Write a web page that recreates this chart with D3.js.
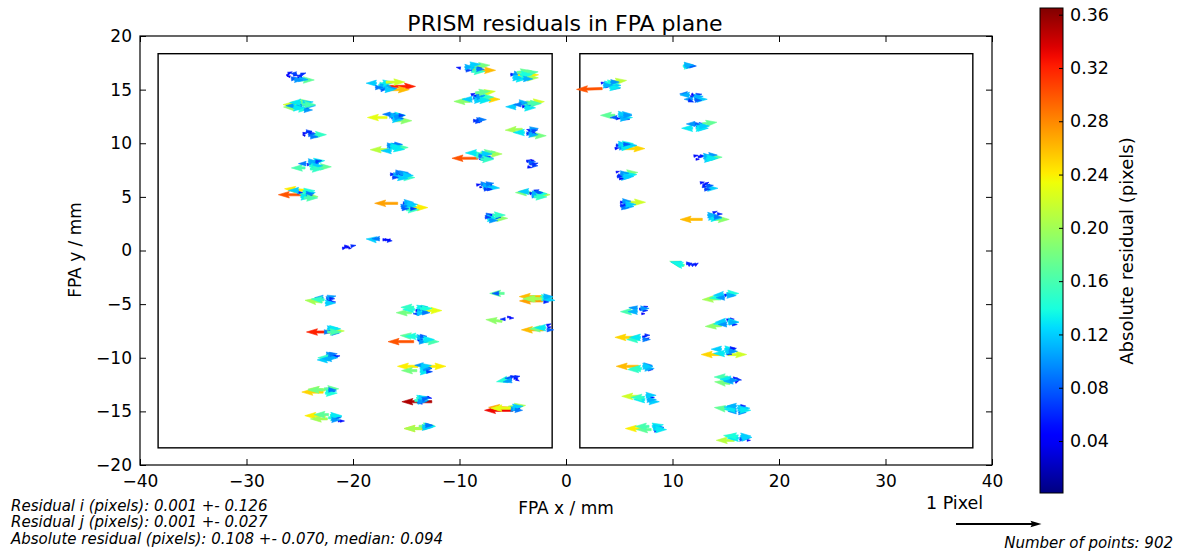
<!DOCTYPE html>
<html>
<head>
<meta charset="utf-8">
<script src="https://cdn.jsdelivr.net/npm/d3@7"></script>
<style>
body{margin:0;background:#fff;}
text{font-family:"DejaVu Sans",sans-serif;fill:#000;}
</style>
</head>
<body>
<div id="viz"></div>
<script>
// axes / colorbar ticks
var xTicks = [-40,-30,-20,-10,0,10,20,30,40];
var yTicks = [-20,-15,-10,-5,0,5,10,15,20];
var cTicks = [0.04,0.08,0.12,0.16,0.20,0.24,0.28,0.32,0.36];
var cRange = [0.001, 0.365];

// the two detector outlines (mm)
var detX0 = [-38.3, 1.3];
var detX1 = [-1.3, 38.2];
var detY = [-18.4, 18.35];

// star groups: centre of each group (mm)
var clusterX = [-25.3,-25.0,-24.0,-24.0,-25.0, -17.0,-16.3,-16.4,-15.6,-15.5,
  -8.6,-8.4,-8.4,-8.0,-7.5,-7.0, -4.2,-4.0,-3.5,-3.4,-3.2, -20.6,-17.2,
  -22.8,-22.4,-22.4,-22.8,-22.3, -14.0,-14.2,-13.7,-14.0,-13.8,
  -6.6,-6.4,-5.6,-5.5, -2.6,-2.5,
  4.0,5.0,5.2,5.3,5.5, 11.6,11.8,12.2,13.2,13.1,13.2, 10.5,
  14.6,14.7,14.7,15.2,15.4,15.8, 6.5,6.6,6.8,7.0,7.5];
var clusterY = [16.2,13.5,10.8,8.0,5.3, 15.3,12.4,9.6,7.0,4.2,
  17.0,14.3,12.1,8.8,6.0,3.1, 16.3,13.6,11.0,8.1,5.3, 0.3,1.0,
  -4.6,-7.5,-10.0,-13.1,-15.6, -5.6,-8.3,-11.0,-14.0,-16.5,
  -4.0,-6.4,-12.0,-14.8, -4.5,-7.3,
  15.4,12.5,9.7,7.0,4.3, 17.2,14.3,11.6,8.7,6.0,3.1, -1.2,
  -4.2,-6.7,-9.5,-12.1,-14.8,-17.5, -5.6,-8.2,-11.0,-13.8,-16.6];

// residuals per group: [dx mm, dy mm, res i (pixels), res j (pixels)]
var clusterArrows = [
 [[-0.8,0.3,0.05,0.02],[-0.6,0.0,-0.04,0.01],[-0.3,0.2,0.06,-0.01],[0.1,-0.1,0.05,0.0],[-0.9,0.1,0.03,0.03],[0.3,-0.3,0.17,0.0],[0.2,-0.2,0.11,-0.01],[0.5,0.1,-0.06,0.0],[-0.5,-0.2,0.08,0.01],[0.0,0.3,-0.07,0.0],[-0.2,-0.3,0.10,0.0],[0.4,0.2,0.06,0.02]],
 [[0.2,0.1,-0.22,0.0],[0.0,-0.2,-0.19,0.01],[-0.4,0.3,0.18,0.01],[-0.2,-0.3,0.14,0.0],[0.6,0.0,0.11,0.0],[0.3,0.2,0.12,0.02],[0.0,0.0,0.05,0.01],[0.5,-0.2,0.04,-0.01],[-0.5,0.0,-0.10,0.0],[-0.3,0.0,0.09,0.01],[0.1,0.3,-0.13,0.0],[0.4,-0.4,0.10,0.0],[-0.6,-0.2,0.13,0.0],[0.2,0.1,0.16,0.0]],
 [[-0.7,0.1,0.05,0.01],[-0.5,-0.1,-0.03,0.01],[0.2,0.1,0.04,0.0],[0.4,-0.1,0.06,-0.01],[0.3,0.0,0.15,0.0],[-0.2,0.0,0.08,0.01],[-0.4,0.3,0.07,0.0],[0.0,-0.2,0.09,0.0],[0.1,0.2,-0.06,0.01]],
 [[0.3,0.3,0.13,0.01],[0.0,0.1,0.10,0.0],[-0.5,-0.3,-0.16,0.0],[0.6,-0.2,0.17,0.0],[-0.3,0.0,0.05,0.01],[0.4,0.0,0.04,-0.01],[0.7,0.2,-0.08,0.01],[-0.1,-0.1,0.14,-0.01],[-0.2,0.3,0.11,0.0],[0.2,-0.1,0.12,0.0],[-0.4,0.1,-0.09,0.0],[0.5,0.3,0.07,0.01],[0.0,-0.4,0.15,0.0]],
 [[0.4,-0.1,-0.30,0.0],[0.5,0.3,-0.24,0.02],[0.0,0.0,0.17,0.0],[0.2,-0.2,0.19,-0.01],[0.5,0.1,0.12,0.0],[-0.2,0.1,0.06,0.0],[0.8,-0.2,0.05,0.01],[0.3,0.2,0.14,0.01],[0.1,-0.3,0.13,0.0],[0.6,0.0,0.09,0.0],[-0.1,0.3,-0.12,0.0],[0.4,-0.4,0.16,0.0]],
 [[0.3,0.0,0.32,0.0],[0.2,-0.3,0.26,0.0],[-0.8,0.3,-0.12,0.0],[-0.6,0.1,0.14,-0.01],[-0.2,-0.1,0.05,0.0],[0.0,0.2,0.04,-0.01],[0.3,-0.2,0.10,0.0],[-0.4,-0.3,0.08,0.01],[0.1,0.1,-0.06,0.01],[-0.5,0.0,0.11,0.0],[-0.2,0.3,0.13,0.01],[0.0,-0.3,0.12,0.0],[-0.9,-0.1,0.09,0.0],[0.1,0.4,0.22,0.0]],
 [[-0.5,0.0,-0.23,0.0],[0.3,-0.3,0.19,0.0],[0.2,0.2,0.13,0.0],[-0.1,0.0,0.06,0.01],[0.1,0.3,0.05,-0.01],[0.5,0.0,-0.04,0.0],[-0.3,0.2,0.11,0.01],[0.4,-0.1,0.08,0.0],[0.0,-0.2,0.12,0.0],[-0.2,0.3,-0.09,0.0],[0.2,0.0,0.10,0.01],[0.6,0.2,0.07,0.0]],
 [[-0.3,-0.2,-0.21,0.0],[0.1,0.1,0.12,0.02],[0.0,0.2,0.09,0.01],[-0.2,0.0,0.05,0.0],[0.3,0.0,0.16,0.0],[0.5,0.2,-0.05,0.01],[0.2,-0.1,0.13,-0.01],[-0.4,0.2,0.10,0.0],[0.0,-0.3,-0.12,0.0],[0.3,0.3,0.09,0.0],[-0.1,0.1,0.13,0.0]],
 [[-0.9,0.1,0.06,0.0],[-0.6,0.0,0.11,0.0],[-0.3,0.2,0.04,-0.01],[0.0,0.0,0.05,0.01],[0.2,-0.2,0.15,0.0],[0.4,0.1,0.08,0.0],[-0.2,-0.2,0.12,-0.01],[0.6,0.0,0.04,0.0],[-0.4,0.3,0.09,0.0],[0.0,0.2,0.10,0.01],[-0.7,-0.2,0.07,0.0],[0.3,0.0,0.12,0.0]],
 [[-0.3,0.2,-0.27,0.0],[0.6,-0.2,0.24,0.0],[0.4,0.0,0.13,-0.01],[0.5,-0.4,0.15,0.0],[0.2,0.2,0.06,0.0],[0.8,0.1,0.05,0.01],[0.0,-0.1,0.09,0.01],[0.3,0.3,0.11,0.0],[0.6,0.1,0.12,0.0],[0.1,-0.3,0.08,0.0],[0.9,-0.3,0.07,0.0]],
 [[-1.3,0.0,-0.05,0.01],[-0.6,0.1,0.16,0.0],[-0.3,-0.1,0.12,0.0],[-0.1,-0.2,0.26,0.0],[0.0,0.2,0.18,0.01],[-0.8,-0.2,0.07,0.0],[0.3,0.0,0.05,0.0],[-0.9,0.1,0.11,0.0],[-0.4,0.3,0.12,0.01],[-0.2,-0.3,0.15,0.0],[0.2,-0.1,0.09,0.0]],
 [[-0.6,-0.4,-0.19,0.0],[0.2,-0.2,0.25,0.0],[0.0,0.3,0.22,0.03],[-0.5,0.2,0.05,0.02],[-0.3,0.0,0.08,-0.01],[0.2,0.1,-0.06,0.01],[-0.2,-0.3,0.12,0.0],[0.4,0.0,0.15,0.0],[-0.4,-0.2,-0.12,0.0],[0.0,0.0,0.10,0.02],[-0.1,0.4,0.17,0.02],[0.3,-0.3,0.13,0.0]],
 [[-0.3,0.0,0.06,0.0],[0.0,0.1,0.08,0.0],[0.3,-0.1,-0.04,0.0],[0.1,0.0,0.05,-0.01],[-0.1,-0.1,0.07,0.0],[0.2,0.1,0.09,0.0]],
 [[-0.3,-0.2,-0.30,0.0],[0.4,0.2,0.20,0.0],[0.0,0.3,0.17,0.01],[-0.6,0.1,0.15,0.0],[0.2,-0.1,0.05,0.0],[0.6,-0.1,0.04,0.01],[-0.2,0.0,0.09,0.0],[0.3,-0.3,-0.06,0.0],[-0.4,0.3,-0.13,0.0],[0.1,0.2,0.12,0.0],[0.4,-0.2,0.10,0.0],[0.0,-0.3,0.15,0.0]],
 [[-0.9,0.1,0.05,0.01],[-0.5,0.2,0.09,0.0],[-0.1,0.0,0.04,-0.02],[0.3,-0.1,0.12,-0.01],[0.1,-0.3,0.06,0.0],[-0.6,-0.1,0.03,0.0],[0.5,0.1,-0.04,0.02],[-0.3,0.0,0.11,0.0],[0.0,0.2,0.09,0.01],[-0.2,-0.3,0.07,0.0]],
 [[-0.5,0.2,0.08,0.01],[-0.2,0.1,0.05,0.0],[0.2,0.2,-0.04,0.0],[0.0,-0.1,0.19,0.0],[-0.4,-0.1,0.13,0.0],[0.4,0.0,0.06,0.0],[-0.2,-0.3,0.10,0.0],[-0.6,0.0,0.07,0.0],[0.1,0.2,0.15,0.0]],
 [[-1.0,0.1,0.06,0.0],[-0.7,0.2,0.10,-0.02],[-0.3,0.0,0.24,0.01],[0.0,-0.2,0.20,0.0],[-0.5,-0.3,0.13,0.0],[0.3,0.2,0.16,0.02],[0.5,0.1,-0.07,0.0],[-0.8,-0.2,0.12,0.0],[-0.4,0.3,0.17,0.02],[-0.1,0.1,0.14,0.0],[0.2,-0.3,0.11,0.0]],
 [[-0.7,-0.2,-0.12,0.0],[0.2,0.2,0.22,0.01],[0.0,0.0,0.17,0.02],[-0.3,0.1,0.06,0.0],[-0.1,-0.2,0.05,0.01],[0.3,-0.1,0.09,0.0],[-0.4,0.2,0.11,0.0],[0.1,-0.3,0.13,0.0],[-0.2,0.0,-0.09,0.0],[0.4,0.1,0.16,0.0]],
 [[-0.6,0.3,-0.20,-0.01],[0.2,-0.3,0.18,0.0],[0.0,0.0,0.06,0.02],[0.2,0.2,-0.05,0.01],[-0.2,-0.1,0.07,0.0],[0.4,0.0,0.04,-0.02],[0.1,0.3,0.10,0.01],[-0.4,0.0,-0.13,0.0],[0.0,-0.2,0.11,0.0],[0.3,0.1,0.07,0.02]],
 [[-0.3,0.2,0.05,0.02],[0.0,0.0,0.06,0.0],[0.3,0.1,-0.04,0.01],[-0.2,-0.3,0.05,-0.01],[0.2,-0.2,0.07,0.0],[0.1,0.3,0.04,0.0],[-0.1,0.1,0.08,0.01],[0.3,-0.1,0.06,0.02]],
 [[-0.1,0.1,-0.18,0.0],[0.1,-0.1,0.20,0.0],[0.3,0.0,0.14,0.0],[-0.2,0.0,0.05,0.01],[0.2,0.2,0.06,0.02],[0.5,-0.1,-0.04,0.0],[0.0,-0.2,0.09,0.0],[-0.3,0.2,-0.12,0.0],[0.0,0.0,0.11,0.0],[0.4,0.1,0.08,0.0],[0.2,-0.3,0.15,0.0]],
 [[-0.4,-0.1,0.05,0.01],[0.0,0.0,0.04,0.0],[0.4,0.1,0.06,0.01],[0.2,-0.1,0.03,0.0],[-0.2,0.1,0.05,0.0]],
 [[-0.6,0.0,-0.12,0.01],[0.0,0.0,0.05,0.0],[0.4,-0.1,0.06,0.0],[0.7,0.0,-0.04,0.0],[-0.3,0.1,-0.09,0.0],[0.2,0.0,0.05,0.0]],
 [[-0.1,-0.2,-0.20,0.02],[0.3,0.1,0.08,0.02],[0.0,0.2,-0.10,0.0],[0.4,-0.1,0.05,0.0],[0.7,-0.2,0.06,0.0],[0.2,-0.3,0.12,0.0],[0.1,0.0,-0.15,0.01],[0.4,0.2,0.10,0.02],[0.6,0.1,0.06,0.0]],
 [[0.6,-0.1,-0.32,0.0],[-0.1,0.0,0.21,0.0],[0.0,0.2,0.12,0.01],[0.3,0.1,0.06,0.0],[0.5,0.0,-0.05,0.0],[-0.3,-0.1,0.09,0.0],[0.2,0.2,0.13,0.0],[0.4,-0.2,0.09,0.0],[0.0,-0.1,0.16,0.0]],
 [[-0.1,0.3,0.10,0.01],[0.3,0.0,-0.15,0.0],[0.0,-0.2,-0.12,0.0],[0.4,0.2,0.05,0.0],[0.7,0.1,0.06,0.01],[0.1,0.1,0.08,0.0],[0.1,0.0,0.11,0.0],[0.4,-0.1,-0.11,0.0],[0.2,0.3,0.09,0.01]],
 [[0.0,-0.1,-0.25,0.0],[0.2,0.1,-0.20,0.01],[0.3,0.0,0.12,0.0],[0.7,0.0,0.05,0.0],[0.9,-0.1,-0.04,0.0],[0.1,0.2,0.17,0.0],[0.2,-0.2,0.14,0.0],[0.5,0.1,0.09,0.0],[0.0,0.1,-0.18,0.0]],
 [[-0.3,0.2,-0.24,0.0],[-0.1,-0.1,-0.20,0.0],[0.0,0.0,0.15,0.01],[0.3,0.1,0.12,0.0],[0.9,-0.3,0.04,0.0],[1.1,-0.3,0.05,0.0],[0.5,0.0,0.08,0.0],[0.2,0.2,0.13,0.0],[0.3,-0.2,0.10,0.0],[0.0,0.3,-0.17,0.0]],
 [[-0.5,-0.2,-0.18,0.0],[-0.2,0.1,-0.14,0.0],[0.5,0.0,0.23,0.0],[0.0,0.2,0.13,0.02],[0.2,-0.1,0.10,0.0],[-0.1,0.0,0.05,0.0],[0.4,0.3,0.06,0.01],[0.2,-0.3,-0.07,0.0],[0.0,-0.2,0.12,0.0],[0.3,0.2,0.14,0.0],[-0.3,0.3,-0.15,0.0],[0.5,-0.2,0.09,0.0]],
 [[-0.1,-0.2,-0.30,0.0],[0.0,0.3,-0.17,0.01],[0.3,0.0,0.06,0.0],[0.5,0.1,0.05,0.02],[1.0,-0.2,0.16,0.0],[0.2,0.2,0.11,0.0],[0.6,-0.1,-0.04,0.0],[0.2,0.3,-0.14,0.0],[0.4,-0.2,0.10,0.0],[0.5,0.3,0.08,0.0],[0.8,0.0,0.13,0.0]],
 [[-0.2,0.2,-0.24,0.0],[0.5,0.2,0.24,0.0],[0.0,0.0,0.13,0.01],[-0.3,-0.2,-0.18,0.0],[0.2,-0.2,0.06,0.0],[0.5,-0.1,0.05,0.01],[0.8,0.0,0.04,0.0],[0.3,0.3,-0.10,0.0],[0.0,-0.3,0.13,0.0],[0.3,0.0,0.10,0.0],[0.1,0.2,0.12,0.01],[0.6,-0.3,0.07,0.0]],
 [[1.4,-0.1,-0.35,0.0],[0.0,0.2,0.13,0.02],[0.3,0.0,0.10,0.0],[0.7,0.2,0.05,0.02],[1.0,0.3,0.05,-0.01],[-0.2,0.0,0.15,0.01],[0.5,-0.2,-0.06,0.0],[0.2,0.2,0.12,0.0],[0.1,-0.1,0.10,0.0],[0.5,0.1,0.08,0.02]],
 [[0.6,-0.1,-0.25,0.0],[0.0,0.1,0.18,0.01],[0.5,0.1,0.13,0.0],[0.8,0.2,0.05,0.0],[0.2,-0.1,-0.20,0.0],[0.3,0.0,0.12,0.0],[0.6,0.2,0.09,0.0]],
 [[0.8,0.0,-0.17,0.0],[0.3,0.0,-0.08,0.0]],
 [[0.4,-0.2,-0.19,0.02],[1.1,0.1,0.05,0.0],[0.9,0.2,0.04,0.0],[0.7,0.0,-0.06,0.0]],
 [[0.2,0.0,-0.14,-0.03],[0.5,0.1,-0.08,0.0],[0.7,0.1,0.05,0.0],[0.9,0.0,0.04,-0.02],[0.4,0.2,0.06,0.01],[0.5,-0.1,-0.10,-0.02],[0.8,0.2,0.06,0.01]],
 [[0.5,-0.1,-0.33,0.0],[0.4,0.1,-0.27,0.01],[0.1,0.2,0.20,0.02],[0.8,0.1,0.05,0.0],[0.9,-0.1,0.04,0.0],[0.3,0.0,0.10,0.0],[0.3,0.1,-0.23,0.0],[0.5,0.2,0.12,0.01],[0.7,-0.1,0.09,0.0]],
 [[0.3,0.2,-0.26,0.0],[0.4,-0.2,-0.27,0.0],[0.0,0.0,-0.18,0.0],[0.2,0.1,0.14,0.0],[0.6,0.0,0.12,-0.02],[0.5,-0.3,0.06,0.0],[0.3,0.0,-0.20,0.0],[0.5,0.2,0.11,0.0]],
 [[0.4,-0.1,-0.26,0.0],[0.5,0.0,-0.18,0.0],[0.7,0.3,0.05,0.02],[0.8,0.1,0.04,0.01],[0.6,0.1,-0.13,0.0],[0.7,-0.1,0.08,0.0]],
 [[-0.6,-0.3,-0.30,-0.01],[-0.4,0.1,0.13,0.0],[0.0,0.3,0.21,0.02],[0.2,0.0,0.12,0.0],[-0.3,-0.1,0.06,0.0],[0.3,-0.2,0.10,-0.01],[0.0,0.1,0.05,0.01],[-0.7,0.2,0.04,0.01],[-0.2,0.2,0.14,0.0],[0.1,-0.2,0.13,0.0],[-0.5,0.0,0.11,0.0],[0.2,0.3,0.10,0.0]],
 [[-0.4,0.1,-0.17,0.0],[0.0,0.0,0.09,0.0],[0.3,0.2,0.11,0.0],[-0.3,-0.2,0.05,0.0],[0.5,-0.2,0.06,-0.01],[0.8,0.0,-0.04,0.0],[0.2,-0.1,0.13,0.0],[-0.1,0.2,0.12,0.0],[0.1,-0.2,0.11,0.0],[0.4,0.1,0.10,0.0],[-0.2,-0.1,-0.08,0.0]],
 [[-0.5,0.1,0.06,0.0],[-0.2,-0.1,0.10,0.0],[0.2,-0.2,0.25,0.0],[0.0,0.2,0.14,0.01],[-0.6,-0.2,0.05,0.01],[0.5,0.1,0.12,0.0],[0.3,0.0,-0.05,0.0],[-0.3,0.2,0.12,0.0],[0.0,-0.1,0.13,0.01],[0.2,0.2,0.08,0.0]],
 [[-0.6,0.3,0.04,0.01],[-0.4,0.0,0.06,0.0],[0.0,0.2,0.18,0.01],[-0.1,-0.2,0.11,0.0],[0.3,0.0,0.13,0.01],[-0.3,-0.3,0.05,0.0],[-0.2,0.2,0.10,0.0],[0.1,-0.1,0.12,0.0],[-0.5,-0.1,0.06,0.0]],
 [[-0.4,0.2,0.05,0.0],[-0.1,0.0,0.07,0.0],[0.2,0.2,0.22,0.0],[0.0,-0.2,0.11,0.0],[-0.3,-0.3,0.09,0.0],[0.3,0.0,-0.04,0.0],[-0.2,0.3,0.10,0.0],[0.1,0.0,0.12,0.0],[-0.4,-0.1,0.06,0.0]],
 [[-0.6,0.0,0.14,0.0],[-0.3,0.0,0.10,0.0],[0.0,0.0,0.08,0.0],[-0.5,0.1,0.11,0.0]],
 [[-0.4,0.3,-0.09,0.0],[-0.1,0.0,0.05,0.02],[0.1,-0.2,-0.10,0.0],[0.4,0.2,0.07,0.01],[0.5,-0.2,0.12,0.0],[0.0,0.3,0.04,-0.02],[-0.3,-0.3,0.06,-0.02],[0.2,0.0,0.11,0.01],[-0.2,0.2,-0.11,0.0],[0.3,-0.3,0.08,0.0]],
 [[-0.3,-0.2,-0.13,0.0],[0.0,0.0,0.05,0.01],[0.3,0.2,0.06,0.0],[0.6,0.2,0.17,0.02],[0.2,-0.2,0.12,0.0],[-0.2,0.2,0.08,0.0],[0.5,-0.1,-0.05,0.0],[0.0,-0.2,0.13,0.0],[0.3,0.0,0.12,0.0],[-0.1,0.2,-0.10,0.0]],
 [[-1.2,0.1,0.05,0.01],[-1.0,-0.2,0.04,0.0],[-0.6,0.1,0.06,0.0],[0.1,0.0,0.17,0.0],[-0.2,-0.2,0.12,0.0],[0.2,0.2,0.10,0.0],[-0.3,0.1,0.11,0.0],[0.0,-0.1,0.13,0.0],[-0.8,0.0,0.05,0.02]],
 [[-0.5,0.3,0.05,0.01],[-0.3,0.0,0.06,-0.01],[0.0,0.2,0.04,0.02],[0.2,-0.2,0.12,0.0],[0.4,0.1,-0.04,0.0],[-0.1,-0.3,0.07,0.0],[-0.2,0.1,0.05,0.02],[0.1,0.0,0.08,0.01]],
 [[-0.4,-0.2,-0.26,0.0],[0.6,-0.2,0.19,0.0],[0.3,0.1,0.10,0.0],[0.6,0.4,0.05,0.02],[1.0,0.3,0.06,0.0],[0.2,0.0,0.12,-0.01],[0.8,0.1,-0.04,0.01],[0.4,-0.1,0.13,0.0],[0.1,0.2,0.11,0.0],[0.7,0.0,0.09,0.0]],
 [[0.6,-0.2,-0.17,0.05],[0.3,-0.1,-0.12,0.03],[1.0,-0.2,0.04,0.03],[1.3,-0.2,0.05,0.03],[1.6,-0.2,0.04,0.03],[0.8,0.0,0.06,0.0],[0.5,-0.2,-0.13,0.04]],
 [[-0.2,-0.3,-0.20,-0.01],[0.0,-0.1,-0.14,-0.02],[0.3,0.0,0.05,0.02],[0.6,0.1,0.06,-0.01],[0.5,0.2,0.14,0.0],[0.9,0.0,0.04,0.0],[0.2,0.1,-0.12,-0.01],[0.5,0.0,0.11,0.0],[0.3,-0.2,-0.10,0.0]],
 [[-0.1,-0.3,-0.19,-0.01],[0.2,0.0,-0.13,-0.02],[0.4,0.2,0.05,0.02],[0.7,0.3,0.05,0.0],[0.5,0.1,0.13,-0.01],[0.9,-0.2,0.06,0.0],[0.3,0.1,-0.12,-0.01],[0.6,0.0,0.11,0.0],[0.4,-0.2,-0.10,0.0]],
 [[0.0,-0.2,-0.25,0.0],[0.5,-0.2,0.22,0.0],[-0.1,0.3,-0.12,0.0],[0.2,0.3,0.13,0.0],[0.7,0.4,0.06,0.0],[0.9,0.3,0.05,0.01],[0.4,-0.1,0.06,-0.01],[0.3,0.1,0.12,0.0],[0.2,-0.1,-0.13,0.0],[0.6,0.1,0.10,0.0]],
 [[0.0,0.3,-0.16,0.0],[0.2,-0.3,-0.18,0.02],[0.5,0.2,0.05,0.0],[0.8,0.1,0.06,-0.01],[0.7,-0.2,0.04,0.02],[0.3,0.0,-0.09,0.0],[0.3,0.1,-0.13,0.0],[0.5,-0.1,-0.11,0.0],[0.2,0.0,0.10,0.0]],
 [[-0.1,0.0,-0.17,0.02],[0.4,0.2,-0.12,0.0],[0.6,-0.2,-0.10,0.0],[0.9,0.1,0.12,0.0],[0.8,-0.3,0.09,0.0],[1.0,0.3,0.06,0.0],[0.5,0.0,-0.13,0.0],[0.7,0.1,0.12,0.0],[0.6,0.3,-0.11,0.0],[0.9,-0.1,0.13,0.0]],
 [[0.0,-0.2,-0.21,0.0],[0.2,0.1,-0.15,0.02],[0.6,0.2,0.12,0.0],[1.0,0.0,0.05,0.0],[1.2,-0.2,0.04,0.0],[0.5,-0.1,0.08,0.0],[0.4,0.0,-0.13,0.0],[0.7,0.0,0.12,0.01],[0.3,0.2,-0.14,0.0]],
 [[-0.1,-0.1,-0.16,0.0],[0.2,0.2,-0.10,0.01],[0.4,0.1,0.05,0.02],[0.7,0.0,0.06,0.0],[0.6,-0.3,0.04,0.0],[0.8,0.3,0.05,0.01],[0.2,-0.1,-0.11,0.0],[0.5,0.2,0.10,0.0]],
 [[0.0,0.1,-0.25,0.0],[0.3,-0.1,-0.15,0.0],[0.6,0.1,0.05,0.02],[0.9,-0.1,0.04,0.02],[0.8,0.3,0.06,0.0],[0.4,0.1,-0.13,0.0],[0.6,-0.1,0.09,0.0]],
 [[0.0,0.2,-0.26,0.0],[0.3,0.0,-0.14,0.0],[0.5,0.3,0.10,0.0],[0.8,0.2,0.05,0.01],[0.9,-0.1,0.06,0.0],[1.0,0.2,0.04,0.0],[0.2,-0.1,-0.15,0.0],[0.6,0.0,0.11,0.0],[0.4,0.2,0.12,0.0]],
 [[0.0,0.2,-0.22,0.0],[0.4,-0.1,-0.13,0.0],[0.6,0.2,0.05,0.02],[0.8,-0.3,0.12,0.0],[0.9,0.1,0.05,0.0],[0.3,0.1,-0.15,0.0],[0.6,-0.1,0.11,0.0],[0.5,0.3,0.12,0.0]],
 [[0.0,0.0,-0.24,0.0],[0.5,-0.1,-0.17,0.0],[0.6,0.2,0.13,0.02],[1.0,0.0,0.08,0.0],[1.3,0.1,0.05,0.0],[0.8,-0.2,0.06,0.0],[0.3,0.2,-0.16,0.0],[0.7,0.1,0.12,0.0],[0.9,-0.1,0.13,0.0]]
];

var statLines = ["Residual i (pixels): 0.001 +- 0.126",
                 "Residual j (pixels): 0.001 +- 0.027",
                 "Absolute residual (pixels): 0.108 +- 0.070, median: 0.094"];
var nPoints = 902;
var keyValue = 1; // quiver key: 1 pixel

var svg = d3.select("#viz").append("svg")
    .attr("width",1183)
    .attr("height",558);

var x = d3.scaleLinear().domain([-40,40]).range([140,992]);
var y = d3.scaleLinear().domain([-20,20]).range([465,36]);
var arrowLen = d3.scaleLinear().domain([0,1]).range([0,85.5]); // residual pixels -> screen px
var aw = 2.2; // quiver shaft width (px)

// jet colormap
var jr = d3.scaleLinear().domain([0,0.35,0.66,0.89,1]).range([0,0,1,1,0.5]).clamp(true);
var jg = d3.scaleLinear().domain([0,0.125,0.375,0.64,0.91,1]).range([0,0,1,1,0,0]).clamp(true);
var jb = d3.scaleLinear().domain([0,0.11,0.34,0.65,1]).range([0.5,1,1,0,0]).clamp(true);
function jet(t){
    return d3.rgb(jr(t)*255, jg(t)*255, jb(t)*255).toString();
}
var cnorm = d3.scaleLinear().domain(cRange).range([0,1]).clamp(true);

// matplotlib-like arrow outline, width units
function arrowShape(len){
    var hl=5, hal=4.5, hw=3, minsh=5;
    var X, Y;
    if(len < 1){
        X=[];Y=[];
        for(var k=0;k<8;k++){X.push(Math.cos(k*Math.PI/3)*0.5);Y.push(Math.sin(k*Math.PI/3)*0.5);}
    } else if(len < minsh){
        var s = len/minsh;
        X=[0,minsh-hal,minsh-hl,minsh,minsh-hl,minsh-hal,0].map(function(v){return v*s;});
        Y=[0.5,0.5,hw/2,0,-hw/2,-0.5,-0.5].map(function(v){return v*s;});
    } else {
        X=[0,len-hal,len-hl,len,len-hl,len-hal,0];
        Y=[0.5,0.5,hw/2,0,-hw/2,-0.5,-0.5];
    }
    return X.map(function(v,i){return [v,Y[i]];});
}
function arrowPath(x0,y0,u,v){
    var L = arrowLen(Math.sqrt(u*u+v*v));
    var th = Math.atan2(-v,u);
    var c=Math.cos(th), s=Math.sin(th);
    var pts = arrowShape(L/aw).map(function(p){
        return [x0 + (p[0]*c - p[1]*s)*aw, y0 + (p[0]*s + p[1]*c)*aw];
    });
    return "M" + pts.map(function(p){return p[0].toFixed(2)+","+p[1].toFixed(2);}).join("L") + "Z";
}

// flatten groups into points
var points = [];
clusterArrows.forEach(function(list,i){
    list.forEach(function(a){
        points.push({px:clusterX[i]+a[0], py:clusterY[i]+a[1], u:a[2], v:a[3], m:Math.sqrt(a[2]*a[2]+a[3]*a[3])});
    });
});

// detector outlines
svg.selectAll("rect.det")
    .data(detX0)
    .enter()
    .append("rect")
    .attr("class","det")
    .attr("x",function(d){return x(d);})
    .attr("y",y(detY[1]))
    .attr("width",function(d,i){return x(detX1[i])-x(d);})
    .attr("height",y(detY[0])-y(detY[1]))
    .attr("fill","none")
    .attr("stroke","#000")
    .attr("stroke-width",1.4);

// arrows
svg.append("g").selectAll("path")
    .data(points)
    .enter()
    .append("path")
    .attr("d",function(d){return arrowPath(x(d.px),y(d.py),d.u,d.v);})
    .attr("fill",function(d){return jet(cnorm(d.m));})
    .attr("stroke",function(d){return jet(cnorm(d.m));})
    .attr("stroke-width",0.6);

// frame
svg.append("rect")
    .attr("x",x(-40)).attr("y",y(20))
    .attr("width",x(40)-x(-40)).attr("height",y(-20)-y(20))
    .attr("fill","none").attr("stroke","#000").attr("stroke-width",1.2);

var fmt = d3.format("d");
var gx = svg.append("g").attr("transform","translate(0,"+y(-20)+")")
    .call(d3.axisBottom(x).tickValues(xTicks).tickSizeInner(-6).tickSizeOuter(0).tickPadding(10).tickFormat(fmt));
var gy = svg.append("g").attr("transform","translate("+x(-40)+",0)")
    .call(d3.axisLeft(y).tickValues(yTicks).tickSizeInner(-6).tickSizeOuter(0).tickPadding(8).tickFormat(fmt));
var gt = svg.append("g").attr("transform","translate(0,"+y(20)+")")
    .call(d3.axisTop(x).tickValues(xTicks).tickSizeInner(-6).tickSizeOuter(0).tickFormat(""));
var gr = svg.append("g").attr("transform","translate("+x(40)+",0)")
    .call(d3.axisRight(y).tickValues(yTicks).tickSizeInner(-6).tickSizeOuter(0).tickFormat(""));
[gx,gy,gt,gr].forEach(function(g){
    g.select(".domain").remove();
    g.attr("font-family",null).attr("font-size",null);
    g.selectAll("text").style("font-size","17px").attr("fill","#000");
    g.selectAll("line").attr("stroke","#000");
});

// title + axis labels
svg.append("text").attr("x",565).attr("y",31).attr("text-anchor","middle")
    .style("font-size","22px").text("PRISM residuals in FPA plane");
svg.append("text").attr("x",566).attr("y",514).attr("text-anchor","middle")
    .style("font-size","17px").text("FPA x / mm");
svg.append("text").attr("transform","translate(81,250) rotate(-90)").attr("text-anchor","middle")
    .style("font-size","17px").text("FPA y / mm");

// colorbar
var cb = d3.scaleLinear().domain(cRange).range([493,8]);
var grad = svg.append("defs").append("linearGradient").attr("id","jetgrad")
    .attr("x1",0).attr("y1",1).attr("x2",0).attr("y2",0);
grad.selectAll("stop")
    .data(d3.range(0,1.0001,0.02))
    .enter()
    .append("stop")
    .attr("offset",function(d){return d;})
    .attr("stop-color",function(d){return jet(d);});
svg.append("rect").attr("x",1040).attr("y",cb(cRange[1]))
    .attr("width",23).attr("height",cb(cRange[0])-cb(cRange[1]))
    .attr("fill","url(#jetgrad)").attr("stroke","#000").attr("stroke-width",1);
var gc = svg.append("g").attr("transform","translate(1063,0)")
    .call(d3.axisRight(cb).tickValues(cTicks).tickSizeInner(-4).tickSizeOuter(0).tickPadding(7).tickFormat(d3.format(".2f")));
gc.select(".domain").remove();
gc.attr("font-family",null).attr("font-size",null);
gc.selectAll("text").style("font-size","17.5px").attr("fill","#000");
gc.selectAll("line").attr("stroke","#000");
svg.append("text").attr("transform","translate(1133,251) rotate(-90)").attr("text-anchor","middle")
    .style("font-size","18px").text("Absolute residual (pixels)");

// quiver key
svg.append("path").attr("d",arrowPath(956,524,keyValue,0)).attr("fill","#000");
svg.append("text").attr("x",926).attr("y",509).style("font-size","17.5px").text(keyValue+" Pixel");

// stats
svg.selectAll("text.stat")
    .data(statLines)
    .enter()
    .append("text")
    .attr("class","stat")
    .attr("x",11)
    .attr("y",function(d,i){return 511+i*16.3;})
    .style("font-size","15px").style("font-style","italic")
    .text(function(d){return d;});
svg.append("text").attr("x",1173).attr("y",548).attr("text-anchor","end")
    .style("font-size","15px").style("font-style","italic")
    .text("Number of points: "+nPoints);
</script>
</body>
</html>
